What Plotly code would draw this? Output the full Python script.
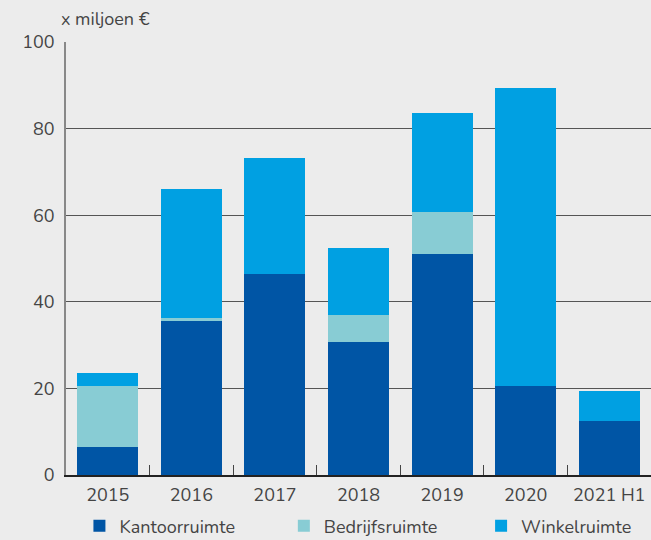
import plotly.graph_objects as go

categories = ["2015", "2016", "2017", "2018", "2019", "2020", "2021 H1"]
kantoor = [6.5, 35.6, 46.4, 30.7, 51.0, 20.5, 12.5]
bedrijfs = [14.0, 0.7, 0.0, 6.3, 9.7, 0.0, 0.0]
winkel = [3.0, 29.7, 26.8, 15.4, 22.9, 68.9, 6.9]
y_ticks = [0, 20, 40, 60, 80, 100]

FONT = "Nunito, Lato, 'Noto Sans', sans-serif"
TXT = "#444444"

fig = go.Figure()
series = [
    ("Kantoorruimte", kantoor, "#0055a5", "legend"),
    ("Bedrijfsruimte", bedrijfs, "#88ccd4", "legend2"),
    ("Winkelruimte", winkel, "#00a0e2", "legend3"),
]
for name, vals, col, leg in series:
    fig.add_trace(go.Bar(
        x=categories, y=vals, name=name, legend=leg,
        marker=dict(color=col, line=dict(width=0)),
    ))

def legend_at(x):
    return dict(
        orientation="h", xref="container", yref="container",
        x=x, y=0.026, xanchor="left", yanchor="middle",
        font=dict(size=18, color=TXT), bgcolor="rgba(0,0,0,0)",
        itemclick=False, itemdoubleclick=False,
    )

fig.update_layout(
    barmode="stack",
    bargap=0.27,
    width=651, height=540,
    paper_bgcolor="#ececec", plot_bgcolor="#ececec",
    margin=dict(l=66, r=0, t=42, b=65, autoexpand=False),
    font=dict(family=FONT, size=18, color=TXT),
    showlegend=True,
    legend=legend_at(0.122),
    legend2=legend_at(0.436),
    legend3=legend_at(0.739),
    annotations=[dict(
        text="x miljoen €", xref="paper", yref="paper", x=-0.012, y=1.02,
        xanchor="left", yanchor="bottom", showarrow=False,
        font=dict(size=18, color=TXT, family=FONT),
    )],
)
fig.update_xaxes(
    showline=True, linecolor="#222222", linewidth=1.5,
    ticks="inside", ticklen=10, tickcolor="#444444", tickwidth=1.2,
    tickson="boundaries", showgrid=False, automargin=False,
    ticklabelstandoff=3,
    tickfont=dict(size=18, color=TXT),
)
fig.update_yaxes(
    range=[0, 100], tickvals=y_ticks, automargin=False,
    showline=True, linecolor="#888888", linewidth=1.5,
    showgrid=True, gridcolor="#555555", gridwidth=1.2,
    zeroline=False, ticks="", ticklabelstandoff=6,
    tickfont=dict(size=18, color=TXT),
)

fig.write_html(
    "out.html",
    config={"displayModeBar": False},
    post_script="document.body.style.margin='0';document.body.style.overflow='hidden';",
)
